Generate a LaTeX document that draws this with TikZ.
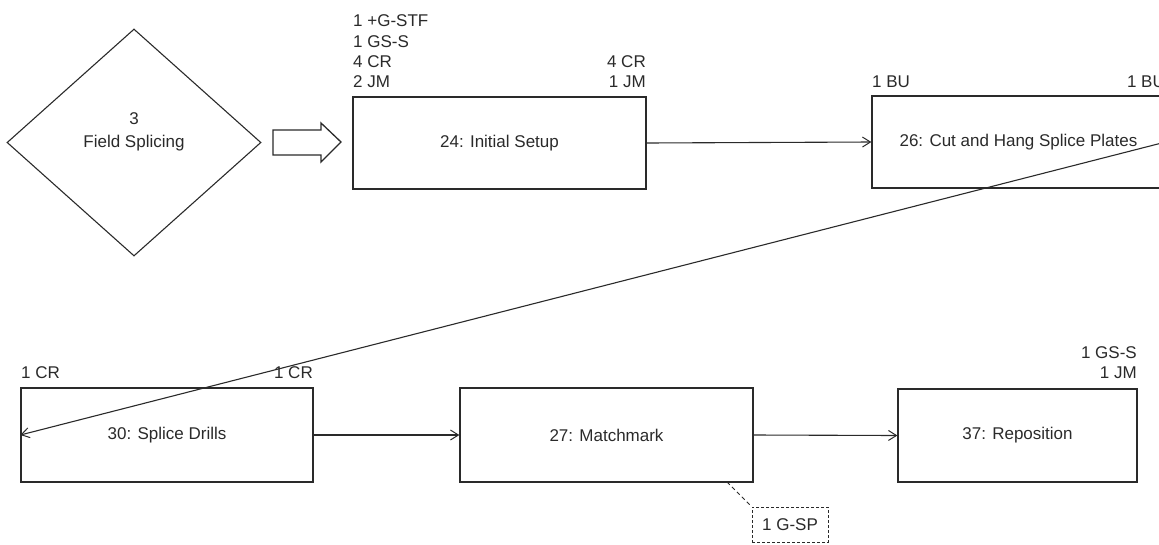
\documentclass[tikz,border=0pt]{standalone}
\usepackage{fontspec}
\setmainfont{Liberation Sans}
\usetikzlibrary{arrows.meta,shapes.geometric}
\definecolor{ink}{HTML}{2A2A2A}
\tikzset{
  lbl/.style={inner sep=0pt, text=ink, font=\fontsize{17}{20}\selectfont},
  taskbox/.style={draw=ink, line width=1.3pt, rectangle, inner sep=0pt, text=ink,
    minimum height=92pt, font=\fontsize{17}{20}\selectfont},
  conn/.style={draw=ink, line width=1.1pt, -{Straight Barb[length=8pt,width=10pt,line width=1pt]}},
}
\begin{document}
\begin{tikzpicture}[x=1pt,y=-1pt]
\useasboundingbox (0,0) rectangle (1159,544);
\clip (0,0) rectangle (1159,544);
% diamond
\node[draw=ink, line width=1.1pt, diamond, minimum width=254pt, minimum height=227pt, inner sep=0pt] (dia) at (134,142.5) {};
\node[lbl] (dia3) at (134,119) {3};
\node[lbl] (diat) at (134,143) {Field Splicing};
% block arrow
\draw[draw=ink, line width=1.3pt, line join=miter] (273,130) -- (321,130) -- (321,123) -- (341,142) -- (321,162) -- (321,155) -- (273,155) -- cycle;
% boxes
\node[taskbox, minimum width=293pt] (b24) at (499.5,143) {24: Initial Setup};
\node[taskbox, minimum width=293pt] (b26) at (1018.5,142) {26: Cut and Hang Splice Plates};
\node[taskbox, minimum width=292pt, minimum height=94pt] (b30) at (167,435) {30: Splice Drills};
\node[taskbox, minimum width=293pt, minimum height=94pt] (b27) at (606.5,435) {27: Matchmark};
\node[taskbox, minimum width=239pt, minimum height=93pt] (b37) at (1017.5,435.5) {37: Reposition};
% labels box 24
\node[lbl, anchor=west] (l24a) at (353,21) {1 +G-STF};
\node[lbl, anchor=west] (l24b) at (353,41.5) {1 GS-S};
\node[lbl, anchor=west] (l24c) at (353,62) {4 CR};
\node[lbl, anchor=west] (l24d) at (353,82) {2 JM};
\node[lbl, anchor=east] (l24e) at (646,62) {4 CR};
\node[lbl, anchor=east] (l24f) at (646,82) {1 JM};
% labels box 26
\node[lbl, anchor=west] (l26a) at (872,82) {1 BU};
\node[lbl, anchor=east] (l26b) at (1165,82) {1 BU};
% labels box 30
\node[lbl, anchor=west] (l30a) at (21,373) {1 CR};
\node[lbl, anchor=east] (l30b) at (313,373) {1 CR};
% labels box 37
\node[lbl, anchor=east] (l37a) at (1137,353) {1 GS-S};
\node[lbl, anchor=east] (l37b) at (1137,373) {1 JM};
% connectors
\draw[conn] (b24.east) -- (b26.west);
\draw[conn] (b26.east) -- (b30.west);
\draw[conn] (b30.east) -- (b27.west);
\draw[conn] (b27.east) -- (b37.west);
% resource box
\node[lbl, draw=ink, line width=1pt, dash pattern=on 3pt off 2pt, minimum width=76pt, minimum height=35pt] (gsp) at (790,524.5) {1 G-SP};
\coordinate (dst) at (727,482);
\draw[draw=ink, line width=1pt, dash pattern=on 4pt off 3pt] (dst) -- (gsp.north west);
\end{tikzpicture}
\end{document}
